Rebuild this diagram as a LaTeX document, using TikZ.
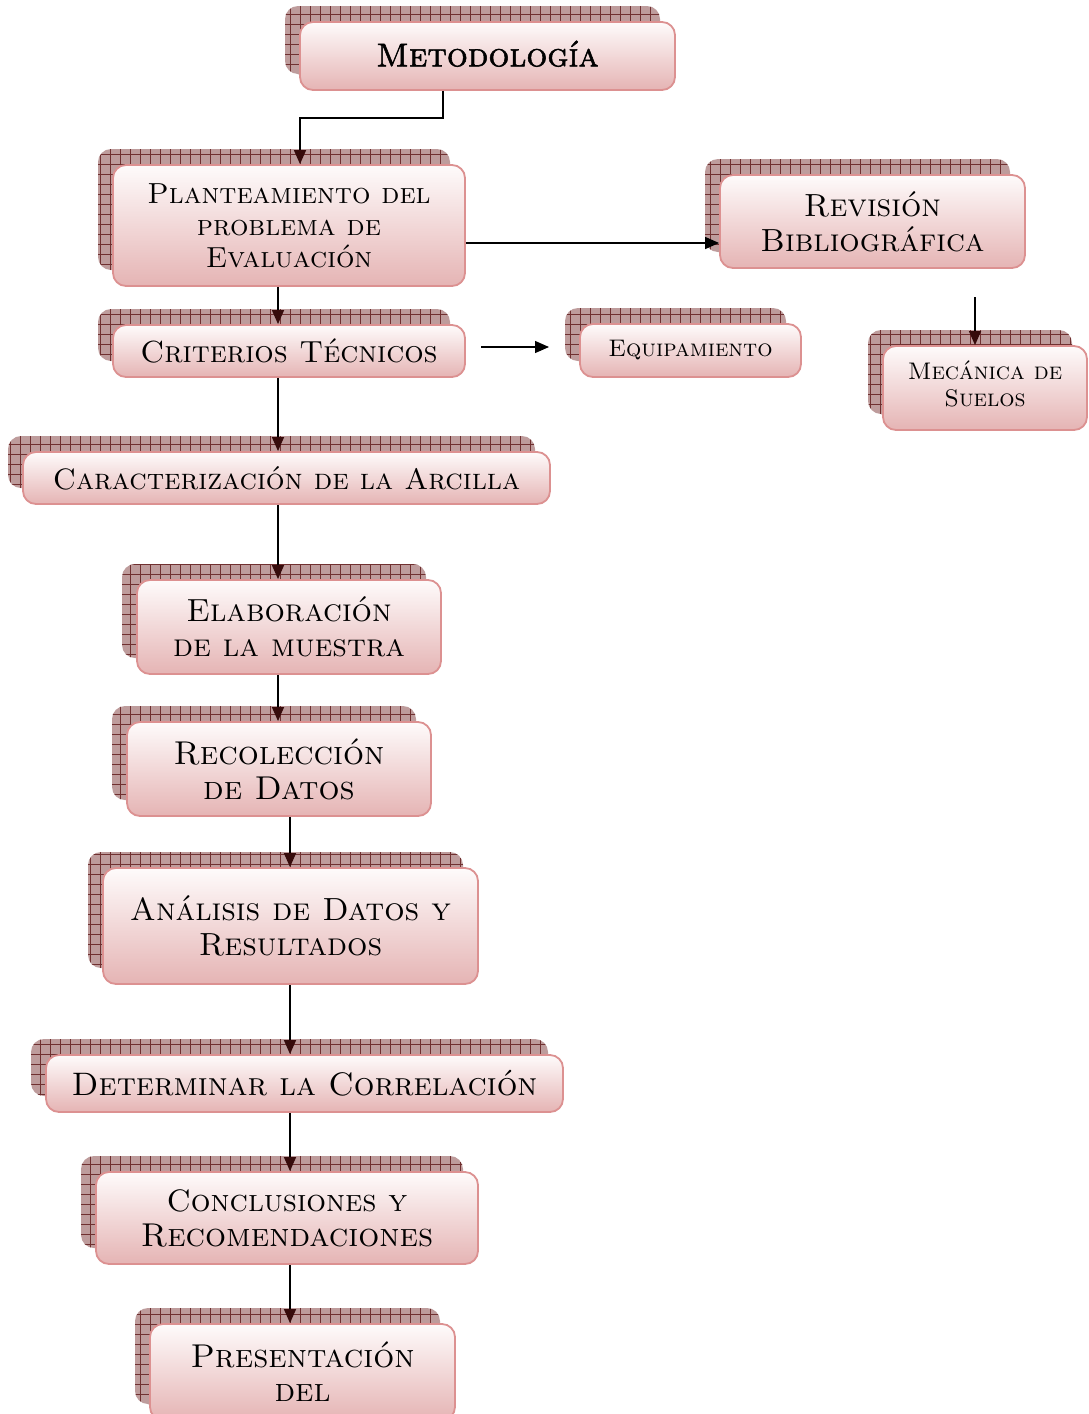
\documentclass[tikz,border=0pt]{standalone}
\usepackage{fontspec}
\newfontfamily\scbold[FakeBold=1.6]{lmromancaps10-regular.otf}
\usetikzlibrary{shadows,patterns.meta,arrows.meta}
\definecolor{boxtop}{RGB}{254,251,251}
\definecolor{boxbot}{RGB}{229,180,180}
\definecolor{boxline}{RGB}{220,145,145}
\definecolor{shfill}{RGB}{190,156,156}
\definecolor{shline}{RGB}{112,48,48}
\definecolor{tipcol}{RGB}{55,12,12}
\newcommand\fz[2]{\fontsize{#1}{#2}\selectfont\scshape}
\tikzset{
  box/.style={rounded corners=13pt, draw=boxline, line width=1.8pt,
    top color=boxtop, bottom color=boxbot, inner sep=0pt, align=center, text=black,
    general shadow={shadow xshift=-15pt, shadow yshift=16pt, fill=shfill},
    general shadow={shadow xshift=-15pt, shadow yshift=16pt,
      pattern={Hatch[angle=0,distance=10pt,line width=0.7pt]}, pattern color=shline}},
  arr/.style={draw=black, line width=1.3pt, -{Triangle[width=12pt,length=14pt,color=tipcol]}},
  arrk/.style={draw=black, line width=1.3pt, -{Triangle[width=12pt,length=14pt,color=black]}}
}
\begin{document}
\begin{tikzpicture}[x=1pt,y=-1pt]
\useasboundingbox (0,0) rectangle (1088,1414);
\clip (0,0) rectangle (1088,1414);
\fill[white] (0,0) rectangle (1088,1414);

\node[box, font=\fz{33}{36}, minimum width=375pt, minimum height=68pt] (meto) at (487.5,56) {\raisebox{5pt}{\scbold Metodología}};
\node[box, font=\fz{29}{32}, minimum width=352pt, minimum height=121pt] (plan) at (289,225.5) {Planteamiento del\\ problema de\\ Evaluación};
\node[box, font=\fz{32}{35}, minimum width=305pt, minimum height=93pt] (rev) at (872.5,221.5) {Revisión\\ Bibliográfica};
\node[box, font=\fz{30.5}{34}, minimum width=352pt, minimum height=52pt] (crit) at (289,351) {Criterios Técnicos};
\node[box, font=\fz{24}{27}, minimum width=221pt, minimum height=53pt] (equip) at (690.5,350.5) {Equipamiento};
\node[box, font=\fz{24}{27}, minimum width=204pt, minimum height=84pt] (meca) at (985,388) {\raisebox{3pt}{\begin{tabular}{@{}c@{}}Mecánica de\\ Suelos\end{tabular}}};
\node[box, font=\fz{29.5}{34}, minimum width=527pt, minimum height=52pt] (carac) at (286.5,478) {Caracterización de la Arcilla};
\node[box, font=\fz{32}{35}, minimum width=304pt, minimum height=94pt] (elab) at (289,627) {Elaboración\\ de la muestra};
\node[box, font=\fz{33}{35}, minimum width=304pt, minimum height=94pt] (reco) at (279,769) {Recolección\\ de Datos};
\node[box, font=\fz{32}{35}, minimum width=375pt, minimum height=116pt] (anal) at (290.5,926) {Análisis de Datos y\\ Resultados};
\node[box, font=\fz{32.5}{34}, minimum width=517pt, minimum height=57pt] (det) at (304.5,1083.5) {Determinar la Correlación};
\node[box, font=\fz{33}{35}, minimum width=382pt, minimum height=92pt] (conc) at (287,1218) {{\fontsize{31}{35}\selectfont Conclusiones y}\\ Recomendaciones};
\node[box, font=\fz{33}{34}, minimum width=305pt, minimum height=96pt] (pres) at (302.5,1372) {Presentación\\ del};

\coordinate (cM) at (443,0);
\coordinate (cP) at (300,0);
\coordinate (cA) at (278,0);
\coordinate (cB) at (290,0);
\coordinate (ry) at (0,243);
\coordinate (ceA) at (481,347);
\coordinate (ceB) at (549,347);
\coordinate (rmA) at (975,297);

\draw[arr] (meto.south -| cM) -- ++(0,27) -| (plan.north -| cP);
\draw[arrk] (plan.east |- ry) -- (rev.west |- ry);
\draw[arrk] (ceA) -- (ceB);
\draw[arr] (rmA) -- (meca.north -| rmA);
\draw[arr] (plan.south -| cA) -- (crit.north -| cA);
\draw[arr] (crit.south -| cA) -- (carac.north -| cA);
\draw[arr] (carac.south -| cA) -- (elab.north -| cA);
\draw[arr] (elab.south -| cA) -- (reco.north -| cA);
\draw[arr] (reco.south -| cB) -- (anal.north -| cB);
\draw[arr] (anal.south -| cB) -- (det.north -| cB);
\draw[arr] (det.south -| cB) -- (conc.north -| cB);
\draw[arr] (conc.south -| cB) -- (pres.north -| cB);
\end{tikzpicture}
\end{document}
